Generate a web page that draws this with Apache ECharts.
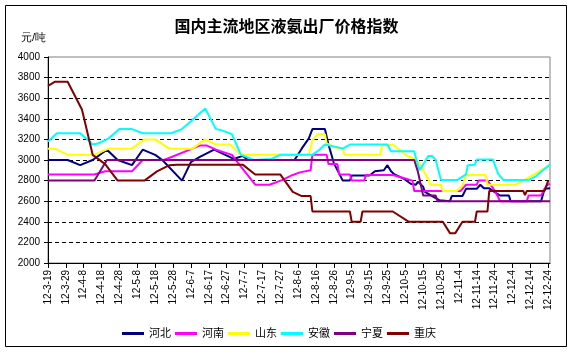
<!DOCTYPE html>
<html>
<head>
<meta charset="utf-8">
<script src="https://cdn.jsdelivr.net/npm/echarts@6/dist/echarts.min.js"></script>
<style>
  html, body { margin: 0; padding: 0; background: #fff; }
  #chart { width: 573px; height: 353px; }
</style>
</head>
<body>
<div id="chart"></div>
<script>
// 日期轴：12-3-19 到 12-12-25，每天一格
const categories = [];
for (let i = 0; i < 282; i++) {
  const d = new Date(2012, 2, 19 + i);
  categories.push('12-' + (d.getMonth() + 1) + '-' + d.getDate());
}

const seriesNames = ['河北', '河南', '山东', '安徽', '宁夏', '重庆'];
const seriesColors = ['#000080', '#ff00ff', '#ffff00', '#00ffff', '#800080', '#800000'];

// 各地区价格拐点 [日期, 元/吨]
const hebei = [
  ['12-3-19', 3000], ['12-3-30', 3000], ['12-4-6', 2950], ['12-4-13', 3000], ['12-4-21', 3100],
  ['12-4-27', 3000], ['12-5-5', 2950], ['12-5-11', 3100], ['12-5-18', 3050], ['12-5-22', 3000],
  ['12-6-2', 2800], ['12-6-7', 2980], ['12-6-12', 3030], ['12-6-20', 3100], ['12-7-1', 3010],
  ['12-7-6', 3040], ['12-7-9', 3000], ['12-8-4', 3000], ['12-8-8', 3110], ['12-8-12', 3210],
  ['12-8-14', 3300], ['12-8-21', 3300], ['12-8-23', 3150], ['12-8-26', 2970], ['12-8-31', 2800],
  ['12-9-4', 2800], ['12-9-5', 2850], ['12-9-15', 2850], ['12-9-18', 2890], ['12-9-23', 2900],
  ['12-9-25', 2950], ['12-9-27', 2890], ['12-9-29', 2860], ['12-10-4', 2820], ['12-10-8', 2770],
  ['12-10-11', 2760], ['12-10-12', 2790], ['12-10-15', 2740], ['12-10-16', 2690], ['12-10-21', 2640],
  ['12-10-24', 2610], ['12-10-25', 2600], ['12-10-30', 2600], ['12-10-31', 2650], ['12-11-6', 2650],
  ['12-11-8', 2720], ['12-11-14', 2720], ['12-11-16', 2760], ['12-11-18', 2725], ['12-11-21', 2725],
  ['12-11-23', 2700], ['12-11-27', 2655], ['12-12-2', 2655], ['12-12-3', 2600], ['12-12-20', 2600],
  ['12-12-22', 2720], ['12-12-25', 2725]
];
const henan = [
  ['12-3-19', 2860], ['12-4-14', 2860], ['12-4-20', 2890], ['12-5-5', 2890], ['12-5-11', 3000],
  ['12-5-23', 3000], ['12-6-12', 3140], ['12-6-16', 3140], ['12-6-21', 3100], ['12-6-30', 3050],
  ['12-7-3', 2980], ['12-7-13', 2760], ['12-7-21', 2760], ['12-7-28', 2805], ['12-8-3', 2855],
  ['12-8-7', 2880], ['12-8-13', 2900], ['12-8-14', 3050], ['12-8-22', 3050], ['12-8-23', 2960],
  ['12-8-28', 2960], ['12-8-29', 2860], ['12-9-4', 2860], ['12-9-5', 2800], ['12-9-12', 2800],
  ['12-9-13', 2855], ['12-9-28', 2855], ['12-10-5', 2820], ['12-10-9', 2800], ['12-10-10', 2700],
  ['12-11-5', 2700], ['12-11-8', 2760], ['12-11-14', 2760], ['12-11-15', 2800], ['12-11-20', 2800],
  ['12-11-23', 2730], ['12-11-26', 2640], ['12-11-27', 2600], ['12-12-12', 2600], ['12-12-13', 2655],
  ['12-12-20', 2655], ['12-12-23', 2750], ['12-12-25', 2770]
];
const shandong = [
  ['12-3-19', 3110], ['12-3-23', 3110], ['12-3-30', 3050], ['12-4-14', 3050], ['12-4-19', 3090],
  ['12-4-22', 3110], ['12-5-5', 3110], ['12-5-12', 3200], ['12-5-18', 3200], ['12-5-26', 3110],
  ['12-6-8', 3110], ['12-6-15', 3200], ['12-6-21', 3150], ['12-6-29', 3150], ['12-7-5', 3050],
  ['12-8-12', 3050], ['12-8-14', 3190], ['12-8-17', 3250], ['12-8-21', 3250], ['12-8-22', 3160],
  ['12-8-27', 3120], ['12-8-31', 3110], ['12-9-1', 3050], ['12-9-21', 3050], ['12-9-22', 3140],
  ['12-9-28', 3150], ['12-10-1', 3110], ['12-10-5', 3050], ['12-10-10', 3010], ['12-10-13', 2970],
  ['12-10-15', 2900], ['12-10-18', 2810], ['12-10-19', 2760], ['12-10-25', 2760], ['12-10-26', 2700],
  ['12-11-3', 2700], ['12-11-6', 2750], ['12-11-8', 2855], ['12-11-19', 2855], ['12-11-20', 2760],
  ['12-12-6', 2760], ['12-12-13', 2830], ['12-12-18', 2880], ['12-12-25', 2950]
];
const anhui = [
  ['12-3-19', 3180], ['12-3-24', 3260], ['12-4-6', 3260], ['12-4-10', 3200], ['12-4-13', 3150],
  ['12-4-16', 3160], ['12-4-22', 3210], ['12-4-28', 3300], ['12-5-5', 3300], ['12-5-11', 3260],
  ['12-5-27', 3260], ['12-6-2', 3300], ['12-6-8', 3390], ['12-6-15', 3500], ['12-6-21', 3300],
  ['12-6-24', 3290], ['12-6-30', 3250], ['12-7-5', 3050], ['12-7-8', 3030], ['12-7-12', 3000],
  ['12-7-22', 3010], ['12-7-27', 3050], ['12-8-14', 3050], ['12-8-18', 3100], ['12-8-21', 3150],
  ['12-8-29', 3120], ['12-8-31', 3110], ['12-9-4', 3150], ['12-9-25', 3150], ['12-9-27', 3085],
  ['12-10-10', 3085], ['12-10-11', 3020], ['12-10-13', 2900], ['12-10-14', 2900], ['12-10-18', 3040],
  ['12-10-20', 3040], ['12-10-22', 3000], ['12-10-25', 2805], ['12-11-3', 2805], ['12-11-8', 2860],
  ['12-11-9', 2950], ['12-11-13', 2955], ['12-11-14', 3005], ['12-11-23', 3005], ['12-11-26', 2865],
  ['12-11-29', 2805], ['12-12-13', 2805], ['12-12-17', 2840], ['12-12-21', 2900], ['12-12-25', 2955]
];
const ningxia = [
  ['12-3-19', 2800], ['12-4-14', 2800], ['12-4-21', 3000], ['12-10-10', 3000], ['12-10-12', 2890],
  ['12-10-15', 2655], ['12-10-22', 2655], ['12-10-23', 2600], ['12-12-25', 2600]
];
const chongqing = [
  ['12-3-19', 3720], ['12-3-23', 3760], ['12-3-30', 3760], ['12-4-7', 3490], ['12-4-13', 3050],
  ['12-4-20', 2960], ['12-4-27', 2800], ['12-5-12', 2800], ['12-5-19', 2890], ['12-5-26', 2950],
  ['12-5-30', 2955], ['12-7-6', 2955], ['12-7-13', 2860], ['12-7-27', 2860], ['12-8-3', 2690],
  ['12-8-8', 2650], ['12-8-13', 2650], ['12-8-14', 2500], ['12-9-4', 2500], ['12-9-5', 2400],
  ['12-9-10', 2400], ['12-9-11', 2500], ['12-9-28', 2500], ['12-10-7', 2400], ['12-10-26', 2400],
  ['12-10-30', 2290], ['12-11-2', 2290], ['12-11-6', 2400], ['12-11-13', 2400], ['12-11-14', 2500],
  ['12-11-20', 2500], ['12-11-21', 2700], ['12-12-10', 2700], ['12-12-11', 2660], ['12-12-12', 2700],
  ['12-12-22', 2700], ['12-12-24', 2800]
];
const seriesData = [hebei, henan, shandong, anhui, ningxia, chongqing];

const baseFont = 'Liberation Sans, Arial, Noto Sans CJK SC, sans-serif';
// 4000 处是绘图区灰色边框，不画虚线
const splitColors = ['transparent', '#000', '#000', '#000', '#000', '#000', '#000', '#000', '#000', '#000', 'transparent'];

const chart = echarts.init(document.getElementById('chart'), null, { renderer: 'canvas' });
chart.setOption({
  animation: false,
  backgroundColor: '#fff',
  textStyle: { fontFamily: baseFont },
  title: {
    text: '国内主流地区液氨出厂价格指数',
    left: 'center',
    top: 15,
    textStyle: { fontSize: 16, fontWeight: 'bold', color: '#000', fontFamily: baseFont }
  },
  graphic: [
    {
      type: 'rect', silent: true, z: -1,
      shape: { x: 5.5, y: 5.5, width: 561, height: 341 },
      style: { fill: 'none', stroke: '#000', lineWidth: 1 }
    },
    {
      type: 'text', left: 21, top: 32,
      style: { text: '元/吨', fontSize: 11, fill: '#000', font: '11px ' + baseFont }
    }
  ],
  grid: {
    left: 48, right: 23, top: 57, bottom: 90,
    show: true, borderColor: '#808080', borderWidth: 1, backgroundColor: 'transparent'
  },
  legend: {
    left: 117, top: 323,
    icon: 'rect', itemWidth: 22, itemHeight: 3, itemGap: 4,
    textStyle: { fontSize: 11, color: '#000', fontFamily: baseFont },
    data: seriesNames
  },
  xAxis: {
    type: 'category',
    data: categories,
    boundaryGap: false,
    axisLine: { lineStyle: { color: '#000', width: 1 } },
    axisTick: { interval: 9, length: 5, lineStyle: { color: '#000' } },
    axisLabel: { interval: 9, rotate: 90, fontSize: 10, color: '#000', margin: 7 },
    splitLine: { show: false }
  },
  yAxis: {
    type: 'value',
    min: 2000, max: 4000, interval: 200,
    axisLine: { show: true, lineStyle: { color: '#000', width: 1 } },
    axisTick: { show: true, length: 4, lineStyle: { color: '#000' } },
    axisLabel: { fontSize: 10, color: '#000', margin: 8, formatter: v => String(v) },
    splitLine: { show: true, lineStyle: { color: splitColors, type: [4, 3], width: 1 } }
  },
  series: seriesNames.map((name, i) => ({
    name: name,
    type: 'line',
    data: seriesData[i],
    symbol: 'none',
    color: seriesColors[i],
    lineStyle: { width: 2, color: seriesColors[i] }
  }))
});
</script>
</body>
</html>
